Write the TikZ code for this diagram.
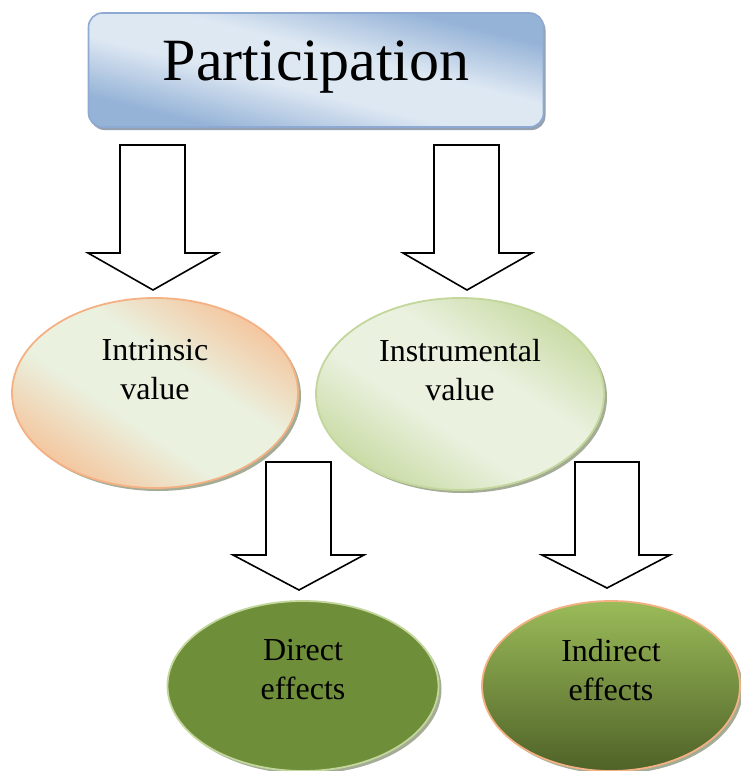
\documentclass[tikz,border=0pt]{standalone}
\usepackage{fontspec}
\setmainfont{Liberation Serif}
\usetikzlibrary{shapes.geometric,shadows}
\definecolor{bdark}{HTML}{95B3D7}
\definecolor{blight}{HTML}{DEE8F3}
\definecolor{bborder}{HTML}{8EAAD2}
\definecolor{oA}{HTML}{F6BE93}
\definecolor{glight}{HTML}{EAF1DF}
\definecolor{oborder}{HTML}{F4B183}
\definecolor{gA}{HTML}{C4D79B}
\definecolor{gborder}{HTML}{C3D69B}
\definecolor{olive}{HTML}{6F8E39}
\definecolor{itop}{HTML}{9BBB59}
\definecolor{ibot}{HTML}{4F6228}
\definecolor{shadowc}{HTML}{9AA38A}
\definecolor{rshadow}{HTML}{8A96A8}
\pgfdeclarehorizontalshading{bluesh}{100bp}{color(0bp)=(bdark); color(28bp)=(bdark); color(44bp)=(blight); color(56bp)=(blight); color(72bp)=(bdark); color(100bp)=(bdark)}
\pgfdeclarehorizontalshading{orangesh}{100bp}{color(0bp)=(oA); color(22bp)=(oA); color(42bp)=(glight); color(58bp)=(glight); color(78bp)=(oA); color(100bp)=(oA)}
\pgfdeclarehorizontalshading{greensh}{100bp}{color(0bp)=(gA); color(22bp)=(gA); color(42bp)=(glight); color(58bp)=(glight); color(78bp)=(gA); color(100bp)=(gA)}
\tikzset{
  oval/.style={ellipse, inner sep=0pt, line width=1.8pt,
    drop shadow={shadow xshift=3pt, shadow yshift=-3pt, fill=shadowc, opacity=0.9}},
  lbl/.style={align=center, font=\fontsize{32}{39}\selectfont, inner sep=0pt},
  blockarrow/.style={draw=black, fill=white, line width=1.6pt, line join=miter},
}
\begin{document}
\begin{tikzpicture}[x=1pt,y=-1pt]
\useasboundingbox (0,0) rectangle (740,771);
% top box
\node[rectangle, rounded corners=14pt, minimum width=455pt, minimum height=114pt,
  draw=bborder, line width=1.6pt, shading=bluesh, shading angle=76,
  drop shadow={shadow xshift=2pt, shadow yshift=-3pt, fill=rshadow, opacity=0.9}]
  (part) at (316,70) {};
\node[anchor=base, font=\fontsize{60}{66}\selectfont, inner sep=0pt] (partt) at (316,80) {Participation};
% ovals
\node[oval, draw=oborder, shading=orangesh, shading angle=56, minimum width=286pt, minimum height=190pt] (iv) at (155,393) {};
\node[lbl] (ivt) at (155,370) {Intrinsic\\value};
\node[oval, draw=gborder, shading=greensh, shading angle=56, minimum width=288pt, minimum height=192pt] (inv) at (460,394) {};
\node[lbl] (invt) at (460,370) {Instrumental\\value};
\node[oval, draw=gborder, fill=olive, minimum width=271pt, minimum height=170pt] (de) at (303,686) {};
\node[lbl] (det) at (303,670) {Direct\\effects};
\node[oval, draw=oborder, top color=itop, bottom color=ibot, minimum width=258pt, minimum height=170pt] (ie) at (611,686) {};
\node[lbl] (iet) at (611,670) {Indirect\\effects};
% block arrows
\draw[blockarrow] (120,145) -- (185,145) -- (185,253) -- (218,253) -- (153,290) -- (88,253) -- (120,253) -- cycle;
\draw[blockarrow] (434,145) -- (499,145) -- (499,253) -- (532,253) -- (467,290) -- (403,253) -- (434,253) -- cycle;
\draw[blockarrow] (266,462) -- (331,462) -- (331,555) -- (364,555) -- (299,590) -- (233,555) -- (266,555) -- cycle;
\draw[blockarrow] (575,462) -- (639,462) -- (639,555) -- (670,555) -- (607,588) -- (542,555) -- (575,555) -- cycle;
\end{tikzpicture}
\end{document}
